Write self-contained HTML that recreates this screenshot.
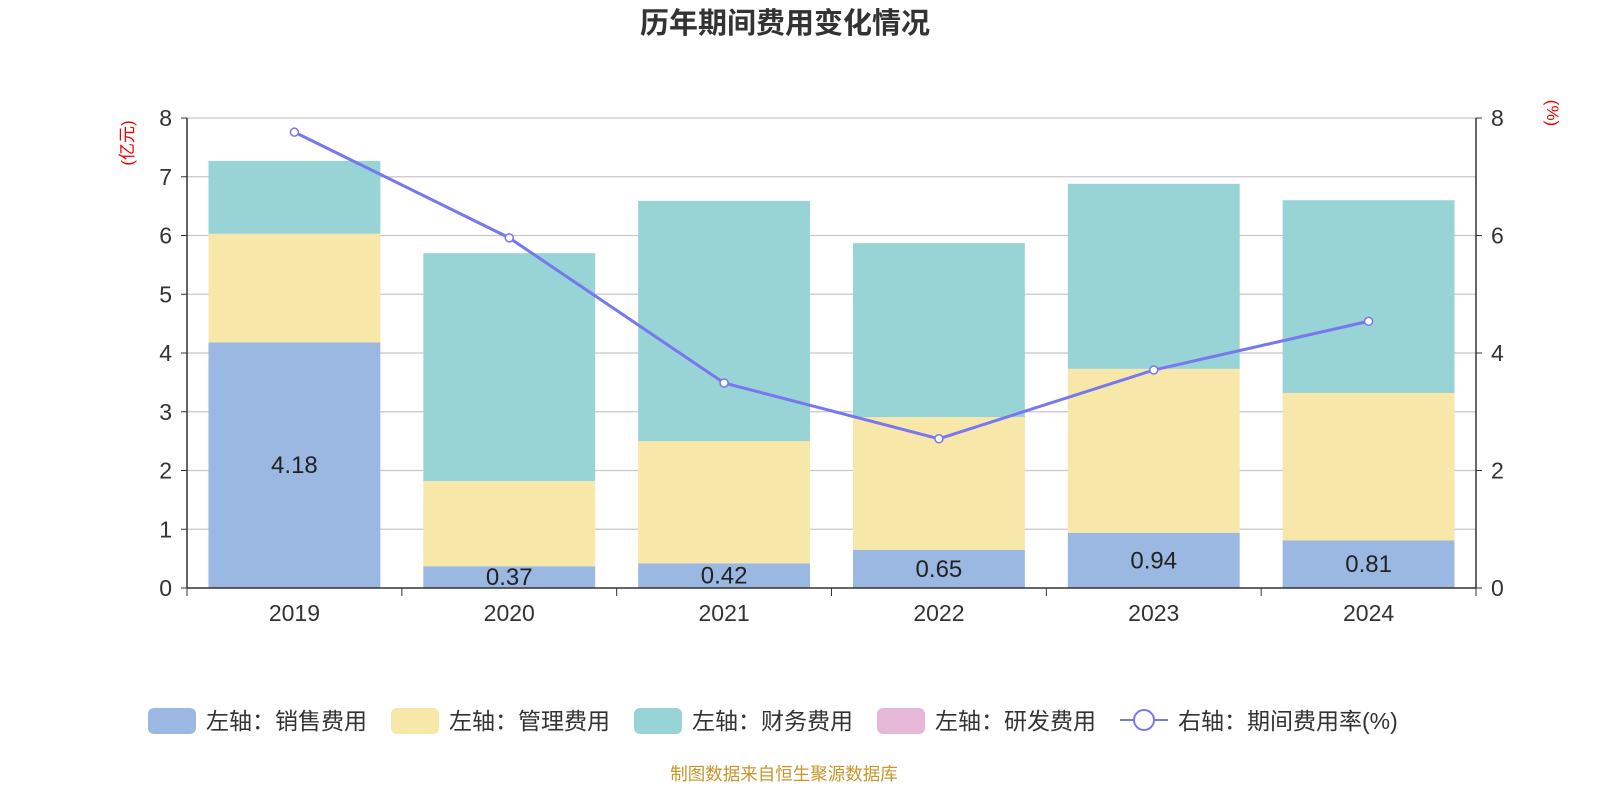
<!DOCTYPE html>
<html><head><meta charset="utf-8"><style>
body{margin:0;background:#fff;}
svg text{font-family:"Liberation Sans","Noto Sans CJK SC",sans-serif;}
</style></head><body>
<svg id="chart" width="1600" height="800" xmlns="http://www.w3.org/2000/svg">
<text x="785" y="33" text-anchor="middle" font-size="29" font-weight="bold" fill="#333">历年期间费用变化情况</text>
<text transform="translate(133,143) rotate(-90)" text-anchor="middle" font-size="17" fill="#e00">(亿元)</text>
<text transform="translate(1547,113) rotate(90)" text-anchor="middle" font-size="17" fill="#e00">(%)</text>
<g id="grid"></g><g id="bars"></g><g id="axes"></g><g id="line"></g>
<g id="legend" font-size="23" fill="#333">
<rect x="148" y="708" width="48" height="26" rx="6" fill="#9ab8e1"/>
<text x="206" y="729">左轴：销售费用</text>
<rect x="391" y="708" width="48" height="26" rx="6" fill="#f7e7a9"/>
<text x="449" y="729">左轴：管理费用</text>
<rect x="634" y="708" width="48" height="26" rx="6" fill="#98d3d5"/>
<text x="692" y="729">左轴：财务费用</text>
<rect x="877" y="708" width="48" height="26" rx="6" fill="#e6b8d8"/>
<text x="935" y="729">左轴：研发费用</text>
<line x1="1120" y1="720" x2="1168" y2="720" stroke="#7777f0" stroke-width="2"/>
<circle cx="1144" cy="720" r="10" fill="#fff" stroke="#7777f0" stroke-width="2"/>
<text x="1178" y="729">右轴：期间费用率(%)</text>
</g>
<text x="784" y="780" text-anchor="middle" font-size="17.5" fill="#c8952a">制图数据来自恒生聚源数据库</text>
</svg>
<script>
const categories=["2019","2020","2021","2022","2023","2024"];
const sales=[4.18,0.37,0.42,0.65,0.94,0.81];
const admin=[1.85,1.45,2.08,2.26,2.79,2.51];
const finance=[1.24,3.88,4.09,2.96,3.15,3.28];
const rate=[7.76,5.96,3.49,2.54,3.71,4.54];
const leftTicks=[0,1,2,3,4,5,6,7,8];
const rightTicks=[0,2,4,6,8];
const NS="http://www.w3.org/2000/svg";
const X0=187,X1=1476,Y0=588,Y1=118,MAX=8;
const band=(X1-X0)/categories.length;
const xc=i=>X0+band*(i+0.5);
const y=v=>Y0-(v/MAX)*(Y0-Y1);
function mk(t,a,p){const e=document.createElementNS(NS,t);for(const k in a)e.setAttribute(k,a[k]);document.getElementById(p).appendChild(e);return e;}
leftTicks.forEach(v=>{
 if(v>0){const g=mk('line',{x1:X0,x2:X1,y1:y(v),y2:y(v),stroke:'#c8c8c8','stroke-width':1.2},'grid');
 
 }
 const t=mk('text',{x:X0-15,y:y(v)+8,'text-anchor':'end','font-size':23,fill:'#333'},'axes');t.textContent=v;
 
 
 const k=mk('line',{x1:X0-6,x2:X0,y1:y(v),y2:y(v),stroke:'#333'},'axes');
 
 
});
rightTicks.forEach(v=>{
 const t=mk('text',{x:X1+15,y:y(v)+8,'font-size':23,fill:'#333'},'axes');t.textContent=v;
 
 
 const k=mk('line',{x1:X1,x2:X1+6,y1:y(v),y2:y(v),stroke:'#333'},'axes');
 
 
});
const bw=band*0.8;
categories.forEach((c,i)=>{
 const segs=[[sales[i],'#9ab8e1','bar-sales'],[admin[i],'#f7e7a9','bar-admin'],[finance[i],'#98d3d5','bar-finance']];
 let base=0;
 segs.forEach(s=>{const r=mk('rect',{x:xc(i)-bw/2,y:y(base+s[0]),width:bw,height:y(base)-y(base+s[0]),fill:s[1]},'bars');
  
  
  base+=s[0];});
 const l=mk('text',{x:xc(i),y:y(sales[i]/2)+8,'text-anchor':'middle','font-size':24,fill:'#222'},'bars');l.textContent=sales[i].toFixed(2);
 
 
 const t=mk('text',{x:xc(i),y:Y0+33,'text-anchor':'middle','font-size':23,fill:'#333'},'axes');t.textContent=c;
 
 
});
for(let i=0;i<=categories.length;i++){const k=mk('line',{x1:X0+band*i,x2:X0+band*i,y1:Y0,y2:Y0+8,stroke:'#333'},'axes');
 
 }
[['line',{x1:X0,x2:X1,y1:Y0,y2:Y0,stroke:'#333','stroke-width':1.5},'x-axis'],['line',{x1:X0,x2:X0,y1:Y1,y2:Y0,stroke:'#333','stroke-width':1.5},'left-axis'],['line',{x1:X1,x2:X1,y1:Y1,y2:Y0,stroke:'#333','stroke-width':1.5},'right-axis']].forEach(a=>{const e=mk(a[0],a[1],'axes');
 
 });
const p=mk('polyline',{points:rate.map((v,i)=>xc(i)+','+y(v)).join(' '),fill:'none',stroke:'#7777f0','stroke-width':3},'line');


rate.forEach((v,i)=>{const c=mk('circle',{cx:xc(i),cy:y(v),r:4,fill:'#fff',stroke:'#7777f0','stroke-width':1.5},'line');
 
 });
</script>
</body></html>
